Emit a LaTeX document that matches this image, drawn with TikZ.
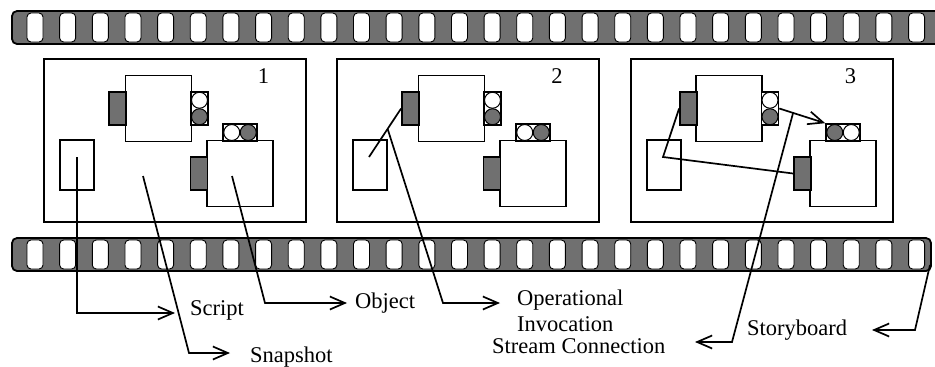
\documentclass[tikz,border=0pt]{standalone}
\usepackage{fontspec}
\setmainfont{Liberation Serif}
\usetikzlibrary{arrows.meta,calc}
\definecolor{filmgray}{RGB}{112,112,112}
\begin{document}
\begin{tikzpicture}[x=1pt,y=-1pt,
  strip/.style={draw=black,fill=filmgray,line width=1.8pt,rounded corners=5pt},
  hole/.style={draw=black,fill=white,line width=0.9pt,rounded corners=4pt},
  frame/.style={draw,line width=1.8pt,minimum width=262pt,minimum height=163pt,inner sep=0pt},
  objbox/.style={draw,fill=white,line width=1.8pt,minimum width=66pt,minimum height=66pt,inner sep=0pt},
  scriptbox/.style={draw,fill=white,line width=1.8pt,minimum width=34pt,minimum height=50pt,inner sep=0pt},
  port/.style={draw,fill=filmgray,line width=1.8pt,minimum width=17pt,minimum height=33pt,inner sep=0pt},
  vstack/.style={draw,fill=white,line width=1.6pt,minimum width=17pt,minimum height=33pt,inner sep=0pt},
  hstack/.style={draw,fill=white,line width=1.6pt,minimum width=34pt,minimum height=17pt,inner sep=0pt},
  wcirc/.style={circle,draw,fill=white,line width=1pt,minimum size=16pt,inner sep=0pt},
  gcirc/.style={circle,draw,fill=filmgray,line width=1pt,minimum size=16pt,inner sep=0pt},
  lab/.style={inner sep=0pt,anchor=base west,font=\fontsize{22.5}{26}\selectfont},
  num/.style={inner sep=0pt,anchor=base,font=\fontsize{22.5}{26}\selectfont},
  conn/.style={line width=1.7pt},
  ptr/.style={line width=1.7pt,-{Straight Barb[length=15pt,width=13pt]}}
]
\useasboundingbox (0,0) rectangle (935,367);
% film strips
\draw[strip] (12,11) rectangle (955,44);
\draw[strip] (12,238) rectangle (931,271);
\foreach \k in {0,...,27}{
  \draw[hole] ({27+32.65*\k},13) rectangle +(16,29);
  \draw[hole] ({27+32.65*\k},240) rectangle +(16,29);
}
% frames
\node[frame] (f1) at (175,140.5) {};
\node[frame] (f2) at (468,140.5) {};
\node[frame] (f3) at (762,140.5) {};
\node[num] (n1) at (263.5,83) {1};
\node[num] (n2) at (557,83) {2};
\node[num] (n3) at (850.5,83) {3};
% frame 1
\node[objbox] (A1) at (158.5,108.5) {};
\node[port] (pA1) at (117.5,108.5) {};
\node[vstack] (sA1) at (199.5,108.5) {};
\node[wcirc] (sA1a) at (199.5,100.25) {};
\node[gcirc] (sA1b) at (199.5,116.75) {};
\node[objbox] (B1) at (240,173.5) {};
\node[port] (pB1) at (199,173.5) {};
\node[hstack] (sB1) at (240,132.5) {};
\node[wcirc] (sB1a) at (231.75,132.5) {};
\node[gcirc] (sB1b) at (248.25,132.5) {};
\node[scriptbox] (S1) at (77,165) {};
% frame 2
\node[objbox] (A2) at (451.5,108.5) {};
\node[port] (pA2) at (410.5,108.5) {};
\node[vstack] (sA2) at (492.5,108.5) {};
\node[wcirc] (sA2a) at (492.5,100.25) {};
\node[gcirc] (sA2b) at (492.5,116.75) {};
\node[objbox] (B2) at (533,173.5) {};
\node[port] (pB2) at (492,173.5) {};
\node[hstack] (sB2) at (533,132.5) {};
\node[wcirc] (sB2a) at (524.75,132.5) {};
\node[gcirc] (sB2b) at (541.25,132.5) {};
\node[scriptbox] (S2) at (370,165) {};
% frame 3
\node[objbox] (A3) at (729,108.5) {};
\node[port] (pA3) at (688.5,108.5) {};
\node[vstack] (sA3) at (770,108.5) {};
\node[wcirc] (sA3a) at (770,100.25) {};
\node[gcirc] (sA3b) at (770,116.75) {};
\node[objbox] (B3) at (843,173.5) {};
\node[port] (pB3) at (802.5,173.5) {};
\node[hstack] (sB3) at (843,132.5) {};
\node[gcirc] (sB3a) at (834.75,132.5) {};
\node[wcirc] (sB3b) at (851.25,132.5) {};
\node[scriptbox] (S3) at (664,165) {};
% labels
\node[lab] (lScript) at (190,315) {Script};
\node[lab] (lSnap) at (250,362) {Snapshot};
\node[lab] (lObj) at (355,308) {Object};
\node[lab] (lOp) at (517,305) {Operational};
\node[lab] (lInv) at (517,331) {Invocation};
\node[lab] (lStream) at (492,353) {Stream Connection};
\node[lab] (lStory) at (747,335) {Storyboard};
% connections inside frames
\coordinate (c4) at (369,157);
\draw[conn] (c4) -- (pA2.west);
\draw[ptr] (sA3.east) -- (sB3.north west);
\coordinate (c7) at (663,157);
\draw[conn] (pA3.west) -- (c7) -- (pB3.west);
% pointers
\coordinate (c1) at (77,157);
\coordinate (t1) at (175,313);
\draw[ptr] (c1) |- (t1);
\coordinate (c2) at (143,176);
\coordinate (k2) at (189,353);
\coordinate (t2) at (230,353);
\draw[ptr] (c2) -- (k2) -- (t2);
\coordinate (c3) at (232,176);
\coordinate (k3) at (265,303);
\coordinate (t3) at (347,303);
\draw[ptr] (c3) -- (k3) -- (t3);
\coordinate (c5) at ($(c4)!0.58!(pA2.west)$);
\coordinate (k5) at (443,303);
\coordinate (t5) at (500,303);
\draw[ptr] (c5) -- (k5) -- (t5);
\coordinate (c6) at ($(sA3.east)!0.3!(sB3.north west)$);
\coordinate (k6) at (732,342);
\coordinate (t6) at (695,342);
\draw[ptr] (c6) -- (k6) -- (t6);
\coordinate (c8) at (930,265);
\coordinate (k8) at (915,330);
\coordinate (t8) at (872,330);
\draw[ptr] (c8) -- (k8) -- (t8);
\end{tikzpicture}
\end{document}
